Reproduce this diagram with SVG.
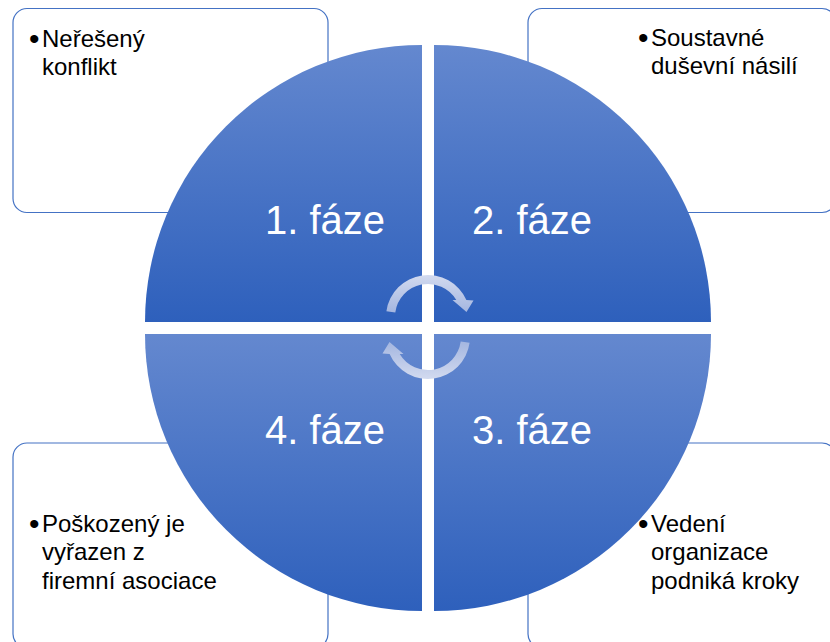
<svg xmlns="http://www.w3.org/2000/svg" width="830" height="642" viewBox="0 0 830 642">
  <defs>
    <linearGradient id="qgrad" x1="0" y1="0" x2="0" y2="1">
      <stop offset="0" stop-color="#6488CF"/>
      <stop offset="1" stop-color="#2E60BC"/>
    </linearGradient>
    <linearGradient id="agrad" x1="0" y1="0" x2="0" y2="1">
      <stop offset="0" stop-color="#D2DAEF"/>
      <stop offset="1" stop-color="#A4B6E0"/>
    </linearGradient>
  </defs>
  <style>
    .box { fill: #FFFFFF; stroke: #4472C4; stroke-width: 1.2; }
    .quad { fill: url(#qgrad); }
    .body { font-family: "Liberation Sans", Arial, sans-serif; font-size: 24px; fill: #000000; }
    .bullet { font-family: "Liberation Sans", Arial, sans-serif; font-size: 30px; fill: #000000; }
    .big { font-family: "Liberation Sans", Arial, sans-serif; font-size: 40px; fill: #FFFFFF; text-anchor: middle; }
    .arrow { fill: url(#agrad); }
  </style>

  <g id="box1">
    <rect class="box" x="13" y="8.5" width="315" height="204" rx="14" ry="14"/>
    <text class="bullet" x="29" y="49">•</text>
    <text class="body"><tspan x="42" y="47">Neřešený</tspan><tspan x="42" y="74.5">konflikt</tspan></text>
  </g>
  <g id="box2">
    <rect class="box" x="528" y="8.5" width="308" height="204" rx="14" ry="14"/>
    <text class="bullet" x="638" y="48">•</text>
    <text class="body"><tspan x="651" y="46">Soustavné</tspan><tspan x="651" y="73.5">duševní násilí</tspan></text>
  </g>
  <g id="box3">
    <rect class="box" x="528" y="443" width="308" height="205" rx="14" ry="14"/>
    <text class="bullet" x="638" y="534">•</text>
    <text class="body"><tspan x="651" y="532">Vedení</tspan><tspan x="651" y="560">organizace</tspan><tspan x="651" y="588.5">podniká kroky</tspan></text>
  </g>
  <g id="box4">
    <rect class="box" x="13" y="443" width="315" height="205" rx="14" ry="14"/>
    <text class="bullet" x="29" y="534">•</text>
    <text class="body"><tspan x="42" y="532">Poškozený je</tspan><tspan x="42" y="560">vyřazen z</tspan><tspan x="42" y="588.5">firemní asociace</tspan></text>
  </g>

  <g id="phase1">
    <path class="quad" d="M 422 322 L 145 322 A 277 277 0 0 1 422 45 Z"/>
    <text class="big" x="325" y="234">1. fáze</text>
  </g>
  <g id="phase2">
    <path class="quad" d="M 434 322 L 434 45 A 277 277 0 0 1 711 322 Z"/>
    <text class="big" x="532" y="234">2. fáze</text>
  </g>
  <g id="phase3">
    <path class="quad" d="M 434 334 L 711 334 A 277 277 0 0 1 434 611 Z"/>
    <text class="big" x="532" y="444">3. fáze</text>
  </g>
  <g id="phase4">
    <path class="quad" d="M 422 334 L 422 611 A 277 277 0 0 1 145 334 Z"/>
    <text class="big" x="325" y="444">4. fáze</text>
  </g>

  <g id="connectors">
    <path class="arrow" d="M 386.4 311.2 A 42 42 0 0 1 466.4 300 L 473.5 300.5 L 466.5 312 L 452.5 300 L 456.3 300 A 33 33 0 0 0 395.3 312.4 Z"/>
    <path class="arrow" transform="rotate(180 428 327)" d="M 386.4 311.2 A 42 42 0 0 1 466.4 300 L 473.5 300.5 L 466.5 312 L 452.5 300 L 456.3 300 A 33 33 0 0 0 395.3 312.4 Z"/>
  </g>
</svg>
